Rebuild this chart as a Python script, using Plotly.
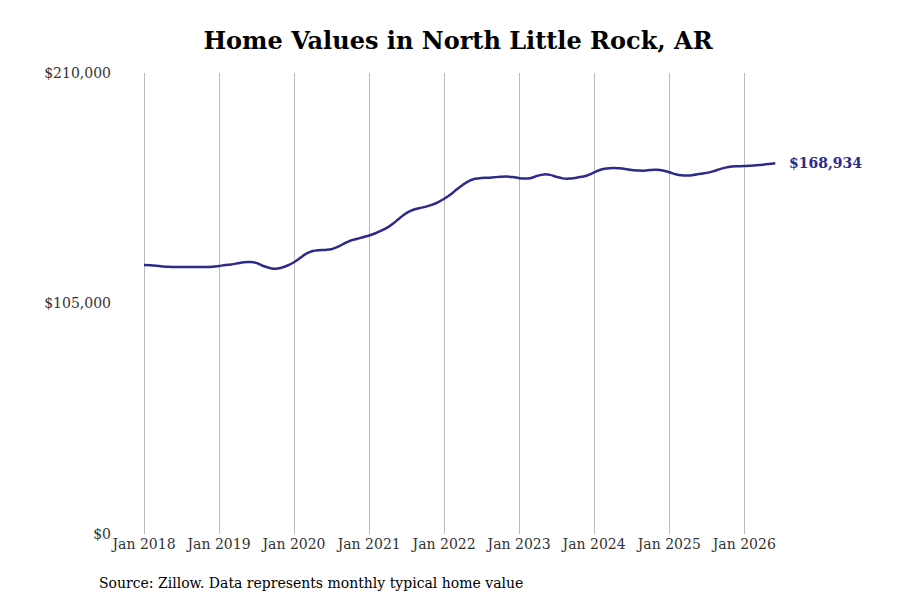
import plotly.graph_objects as go
import pandas as pd

dates = pd.date_range("2018-01-01", "2026-06-01", freq="MS")
values = [
122500,122400,122200,121900,121700,121600,121600,121600,121600,121600,121600,121700,
122100,122500,122800,123300,123800,123900,123500,122200,121300,120800,121300,122300,
123800,125800,127700,128900,129300,129400,129700,130800,132300,133600,134400,135200,
136000,137000,138200,139700,141700,144100,146200,147600,148400,149000,149900,151100,
152700,154600,156800,159000,160800,161800,162200,162300,162500,162700,162800,162600,
162100,161900,162200,163200,163800,163600,162700,162000,161900,162200,162700,163400,
164700,165900,166500,166700,166600,166300,165800,165600,165500,165800,165900,165600,
164800,163900,163400,163300,163600,164100,164500,165200,166100,166900,167400,167500,
167600,167800,168000,168200,168500,168934]
tick_vals = [0, 105000, 210000]
tick_text = ["$0", "$105,000", "$210,000"]
x_ticks = [f"{y}-01-01" for y in range(2018, 2027)]
x_labels = [f"Jan {y}" for y in range(2018, 2027)]

fig = go.Figure(go.Scatter(x=list(dates), y=values, mode="lines",
    line=dict(color="#2e2a8a", width=2.5, shape="spline"), hoverinfo="skip"))
fig.add_annotation(x=dates[-1], y=values[-1], text=f"<b>${values[-1]:,}</b>",
    showarrow=False, xanchor="left", xshift=12, font=dict(color="#2e2a8a", size=14, family="DejaVu Serif"))
fig.add_annotation(x=0, y=-0.085, xref="paper", yref="paper", xanchor="left", yanchor="top", xshift=-15,
    text="Source: Zillow. Data represents monthly typical home value", showarrow=False,
    font=dict(size=14, family="DejaVu Serif", color="#000"))
fig.update_layout(
    width=900, height=600, plot_bgcolor="white", paper_bgcolor="white",
    margin=dict(l=104, r=128, t=65, b=74),
    title=dict(text="<b>Home Values in North Little Rock, AR</b>", x=0.5, xanchor="center", y=0.96,
               font=dict(size=24, family="DejaVu Serif", color="#000")),
    font=dict(family="DejaVu Serif", size=14, color="#333"),
    showlegend=False,
    xaxis=dict(range=["2017-07-29", "2026-06-24"], tickvals=x_ticks, ticktext=x_labels,
               showgrid=True, gridcolor="#bbbbbb", zeroline=False, showline=False),
    yaxis=dict(range=[0, 210000], tickvals=tick_vals, ticktext=tick_text, showgrid=False,
               zeroline=False, showline=False),
)
fig.write_html("out.html")
